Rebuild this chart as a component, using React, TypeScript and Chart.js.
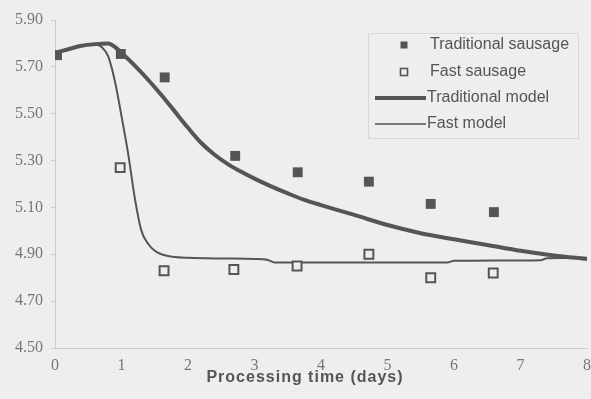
import React, { useEffect, useRef } from "react";
import { Chart, registerables } from "chart.js";

Chart.register(...registerables);

// Measured data (pH vs processing time)
const tradSausageDays = [0.03, 0.99, 1.65, 2.71, 3.65, 4.72, 5.65, 6.6];
const tradSausagePH = [5.75, 5.755, 5.655, 5.32, 5.25, 5.21, 5.115, 5.08];

const fastSausageDays = [0.98, 1.64, 2.69, 3.64, 4.72, 5.65, 6.59];
const fastSausagePH = [5.27, 4.83, 4.835, 4.85, 4.9, 4.8, 4.82];

// Model curves
const tradModelDays = [0, 0.2, 0.4, 0.6, 0.8, 0.9, 1.0, 1.2, 1.4, 1.6, 1.8, 2.0, 2.2, 2.4, 2.6, 2.8, 3.0, 3.25, 3.5, 3.75, 4.0, 4.5, 5.0, 5.5, 6.0, 6.5, 7.0, 7.5, 8.0];
const tradModelPH = [5.76, 5.775, 5.79, 5.797, 5.8, 5.785, 5.76, 5.705, 5.645, 5.58, 5.51, 5.44, 5.375, 5.325, 5.285, 5.252, 5.223, 5.19, 5.16, 5.132, 5.11, 5.068, 5.025, 4.99, 4.964, 4.94, 4.915, 4.895, 4.88];

const fastModelDays = [0, 0.2, 0.4, 0.6, 0.7, 0.8, 0.9, 1.0, 1.1, 1.2, 1.3, 1.4, 1.5, 1.6, 1.8, 2.0, 2.5, 3.0, 3.2, 3.3, 4.0, 5.0, 5.9, 6.0, 7.3, 7.4, 8.0];
const fastModelPH = [5.76, 5.775, 5.79, 5.795, 5.785, 5.745, 5.64, 5.49, 5.33, 5.14, 5.0, 4.945, 4.915, 4.9, 4.888, 4.885, 4.882, 4.88, 4.876, 4.865, 4.865, 4.865, 4.865, 4.872, 4.875, 4.883, 4.885];

const xTicks = [0, 1, 2, 3, 4, 5, 6, 7, 8];
const yTicks = [4.5, 4.7, 4.9, 5.1, 5.3, 5.5, 5.7, 5.9];

const seriesNames = ["Traditional sausage", "Fast sausage", "Traditional model", "Fast model"];
const xTitle = "Processing time (days)";

const INK = "#555555";
const BG = "#eeeeee";

const zip = (xs: number[], ys: number[]) => xs.map((x, i) => ({ x, y: ys[i] }));

const legendPlugin = {
  id: "customLegend",
  afterDraw(chart: any) {
    const { ctx, chartArea } = chart;
    const left = chartArea.right - 219;
    const top = chartArea.top + 13;
    const w = 210;
    const h = 105;
    ctx.save();
    ctx.fillStyle = BG;
    ctx.fillRect(left, top, w, h);
    ctx.strokeStyle = "#d8d8d8";
    ctx.lineWidth = 1;
    ctx.strokeRect(left + 0.5, top + 0.5, w, h);
    ctx.font = "16px 'Liberation Sans', Arial, sans-serif";
    ctx.textBaseline = "middle";
    const rows = [12, 39, 65, 91];
    const mx = left + 36;
    ctx.fillStyle = INK;
    ctx.fillRect(mx - 3.5, top + rows[0] - 3.5, 7, 7);
    ctx.strokeStyle = INK;
    ctx.lineWidth = 1.6;
    ctx.strokeRect(mx - 3.5, top + rows[1] - 3.5, 7, 7);
    ctx.lineWidth = 4;
    ctx.beginPath();
    ctx.moveTo(left + 7, top + rows[2]);
    ctx.lineTo(left + 58, top + rows[2]);
    ctx.stroke();
    ctx.lineWidth = 1.5;
    ctx.beginPath();
    ctx.moveTo(left + 7, top + rows[3]);
    ctx.lineTo(left + 58, top + rows[3]);
    ctx.stroke();
    ctx.fillStyle = INK;
    ctx.fillText(seriesNames[0], left + 62, top + rows[0]);
    ctx.fillText(seriesNames[1], left + 62, top + rows[1]);
    ctx.fillText(seriesNames[2], left + 59, top + rows[2]);
    ctx.fillText(seriesNames[3], left + 59, top + rows[3]);
    // x axis title
    ctx.font = "bold 16px 'Liberation Sans', Arial, sans-serif";
    (ctx as any).letterSpacing = "1px";
    ctx.textAlign = "center";
    ctx.fillStyle = INK;
    ctx.fillText(xTitle, 305, chartArea.bottom + 30);
    ctx.restore();
  },
};

export default function App() {
  const ref = useRef<HTMLCanvasElement | null>(null);

  useEffect(() => {
    document.body.style.margin = "0";
    const canvas = ref.current;
    if (!canvas) return;
    const chart = new Chart(canvas, {
      type: "scatter",
      data: {
        datasets: [
          {
            label: seriesNames[0],
            data: zip(tradSausageDays, tradSausagePH),
            pointStyle: "rect",
            pointRadius: 7,
            backgroundColor: INK,
            borderColor: INK,
            borderWidth: 0,
            order: 1,
          },
          {
            label: seriesNames[1],
            data: zip(fastSausageDays, fastSausagePH),
            pointStyle: "rect",
            pointRadius: 6.3,
            backgroundColor: BG,
            borderColor: INK,
            borderWidth: 2,
            order: 0,
          },
          {
            label: seriesNames[2],
            data: zip(tradModelDays, tradModelPH),
            showLine: true,
            pointRadius: 0,
            borderColor: INK,
            borderWidth: 4,
            cubicInterpolationMode: "monotone",
            order: 3,
          },
          {
            label: seriesNames[3],
            data: zip(fastModelDays, fastModelPH),
            showLine: true,
            pointRadius: 0,
            borderColor: INK,
            borderWidth: 2,
            cubicInterpolationMode: "monotone",
            order: 2,
          },
        ],
      },
      options: {
        responsive: false,
        animation: false,
        layout: { autoPadding: false, padding: { top: 20, right: 3, left: 0, bottom: 0 } },
        plugins: {
          legend: { display: false },
          tooltip: { enabled: false },
          title: { display: false },
        },
        scales: {
          x: {
            type: "linear",
            min: 0,
            max: 8,
            afterBuildTicks: (s: any) => {
              s.ticks = xTicks.map((v) => ({ value: v }));
            },
            afterFit: (s: any) => {
              s.height = 51;
            },
            ticks: {
              color: "#777777",
              font: { family: "'Liberation Serif', 'Times New Roman', serif", size: 16 },
              padding: 0,
              maxRotation: 0,
              callback: (v: any) => String(v),
            },
            grid: { drawOnChartArea: false, drawTicks: true, tickLength: 8, tickColor: "rgba(0,0,0,0)" },
            border: { color: "#cccccc", width: 1 },
          },
          y: {
            type: "linear",
            min: 4.5,
            max: 5.9,
            afterBuildTicks: (s: any) => {
              s.ticks = yTicks.map((v) => ({ value: v }));
            },
            afterFit: (s: any) => {
              s.width = 55;
            },
            ticks: {
              color: "#777777",
              font: { family: "'Liberation Serif', 'Times New Roman', serif", size: 16 },
              padding: 8,
              callback: (v: any) => Number(v).toFixed(2),
            },
            grid: { drawOnChartArea: false, drawTicks: true, tickLength: 4, color: "#cccccc" },
            border: { color: "#cccccc", width: 1 },
          },
        },
      },
      plugins: [legendPlugin],
    });
    return () => chart.destroy();
  }, []);

  return (
    <div style={{ position: "fixed", left: 0, top: 0, width: 591, height: 399, background: BG }}>
      <canvas ref={ref} width={591} height={399} style={{ display: "block" }} />
    </div>
  );
}
